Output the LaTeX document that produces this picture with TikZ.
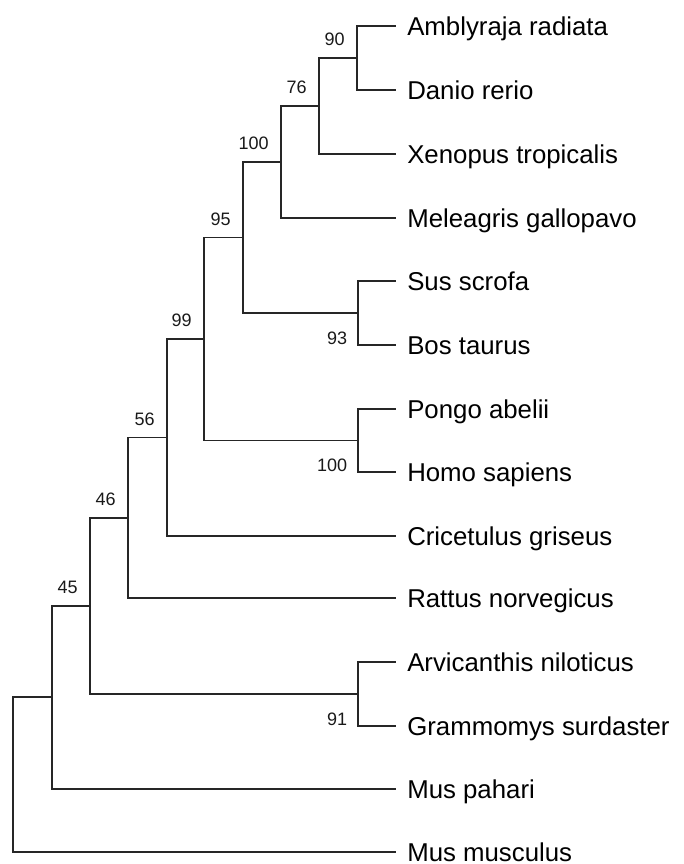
\documentclass[tikz,border=0pt]{standalone}
\usepackage{fontspec}
\setmainfont{Liberation Sans}
\usepackage{xcolor}
\usepackage{tikz}
\usetikzlibrary{positioning}

\begin{document}
\begin{tikzpicture}[
    x=0.75pt, y=-0.75pt,
    branch/.style={draw=black!85, line width=1.4pt, line cap=rect},
    leaf/.style={anchor=west, inner xsep=9pt, inner ysep=0pt, text height=13.9pt, text depth=0pt, font=\fontsize{19.35}{23}\selectfont},
    bs/.style={inner sep=0pt, text height=9.7pt, text depth=0pt, font=\fontsize{13.5}{16}\selectfont, text=black!90},
]
\useasboundingbox (0,0) rectangle (683,864);

% leaves
\node[leaf] (amb) at (395,26)  {Amblyraja radiata};
\node[leaf] (dan) at (395,90)  {Danio rerio};
\node[leaf] (xen) at (395,154) {Xenopus tropicalis};
\node[leaf] (mel) at (395,218) {Meleagris gallopavo};
\node[leaf] (sus) at (395,281) {Sus scrofa};
\node[leaf] (bos) at (395,345) {Bos taurus};
\node[leaf] (pon) at (395,409) {Pongo abelii};
\node[leaf] (hom) at (395,472) {Homo sapiens};
\node[leaf] (cri) at (395,536) {Cricetulus griseus};
\node[leaf] (rat) at (395,598) {Rattus norvegicus};
\node[leaf] (arv) at (395,662) {Arvicanthis niloticus};
\node[leaf] (gra) at (395,726) {Grammomys surdaster};
\node[leaf] (mpa) at (395,789) {Mus pahari};
\node[leaf] (mmu) at (395,852) {Mus musculus};

% internal nodes
\coordinate (n90)  at (357,58);
\coordinate (n76)  at (319,106);
\coordinate (n100) at (281,162);
\coordinate (n93)  at (358,313);
\coordinate (n95)  at (243,237.5);
\coordinate (n100b) at (358,440.5);
\coordinate (n99)  at (204,339);
\coordinate (n56)  at (167,437.5);
\coordinate (n46)  at (128,517.75);
\coordinate (n91)  at (358,694);
\coordinate (n45)  at (90,605.9);
\coordinate (n52)  at (52,697.4);
\coordinate (root) at (13,774.7);

% branches
\draw[branch] (n90) |- (amb.west);
\draw[branch] (n90) |- (dan.west);
\draw[branch] (n76) |- (n90);
\draw[branch] (n76) |- (xen.west);
\draw[branch] (n100) |- (n76);
\draw[branch] (n100) |- (mel.west);
\draw[branch] (n93) |- (sus.west);
\draw[branch] (n93) |- (bos.west);
\draw[branch] (n95) |- (n100);
\draw[branch] (n95) |- (n93);
\draw[branch] (n100b) |- (pon.west);
\draw[branch] (n100b) |- (hom.west);
\draw[branch] (n99) |- (n95);
\draw[branch] (n99) |- (n100b);
\draw[branch] (n56) |- (n99);
\draw[branch] (n56) |- (cri.west);
\draw[branch] (n46) |- (n56);
\draw[branch] (n46) |- (rat.west);
\draw[branch] (n91) |- (arv.west);
\draw[branch] (n91) |- (gra.west);
\draw[branch] (n45) |- (n46);
\draw[branch] (n45) |- (n91);
\draw[branch] (n52) |- (n45);
\draw[branch] (n52) |- (mpa.west);
\draw[branch] (root) |- (n52);
\draw[branch] (root) |- (mmu.west);

% bootstrap values
\node[bs, above left=9pt and 9pt of n90]  {90};
\node[bs, above left=9pt and 9pt of n76]  {76};
\node[bs, above left=9pt and 9pt of n100] {100};
\node[bs, above left=9pt and 9pt of n95]  {95};
\node[bs, above left=9pt and 9pt of n99]  {99};
\node[bs, above left=9pt and 9pt of n56]  {56};
\node[bs, above left=9pt and 9pt of n46]  {46};
\node[bs, above left=9pt and 9pt of n45]  {45};
\node[bs, below left=13.5pt and 8pt of n93]  {93};
\node[bs, below left=13.5pt and 8pt of n100b] {100};
\node[bs, below left=13.5pt and 8pt of n91]  {91};

\end{tikzpicture}
\end{document}
